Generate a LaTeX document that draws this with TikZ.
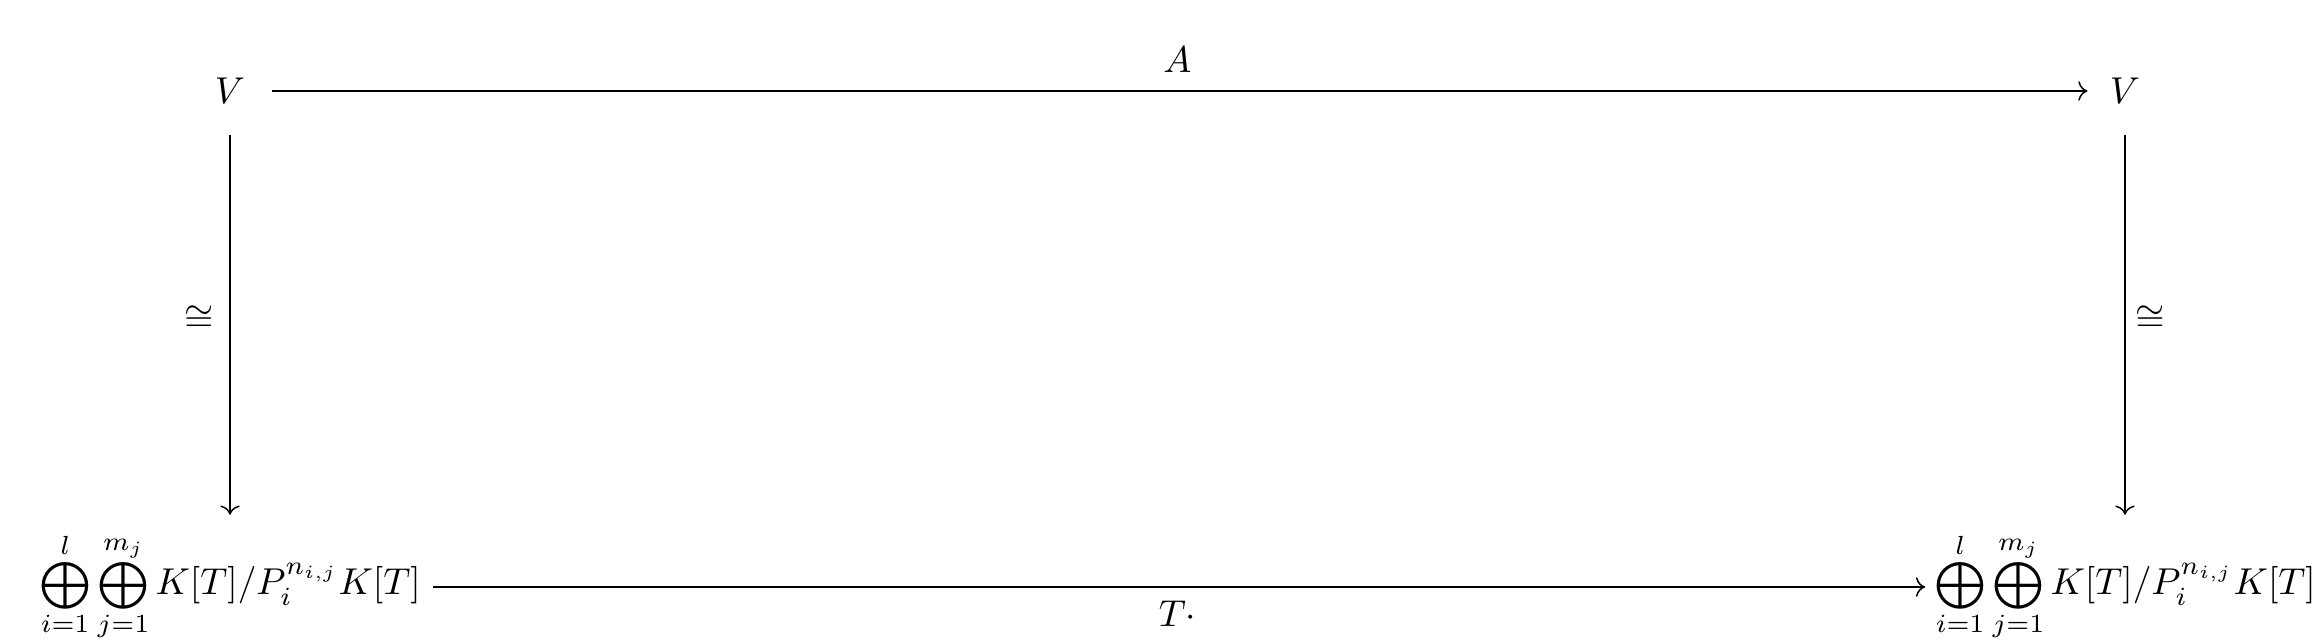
\documentclass[tikz,border=0pt]{standalone}
\usepackage{amsmath,amssymb,graphicx}
\usetikzlibrary{arrows.meta}
\newcommand{\bigop}{\mathop{\vcenter{\hbox{\scalebox{1.25}{$\textstyle\bigoplus$}}}}}
\begin{document}
\begin{tikzpicture}[x=0.2674pt,y=-0.2674pt,
  obj/.style={inner sep=0pt, outer sep=0pt},
  map/.style={-{Computer Modern Rightarrow}, line width=0.4pt},
  lab/.style={inner sep=0pt}]
\useasboundingbox (0,0) rectangle (2318,643);
\node[obj] (V1) at (230,91) {$V$};
\node[obj] (V2) at (2125,91) {$V$};
\node[obj] (B1) at (230,587) {$\bigop\limits_{i=1}^{l}\bigop\limits_{j=1}^{m_j}K[T]/P_i^{n_{i,j}}K[T]$};
\node[obj] (B2) at (2125,587) {$\bigop\limits_{i=1}^{l}\bigop\limits_{j=1}^{m_j}K[T]/P_i^{n_{i,j}}K[T]$};
\draw[map, shorten <=7.1pt, shorten >=6pt] (V1) -- (V2)
  node[lab, midway, yshift=8.3pt] (lA) {$A$};
\draw[map, shorten <=8.3pt, shorten >=4.8pt] (V1) -- (B1)
  node[lab, midway, xshift=-8.3pt] (liso1) {$\cong$};
\draw[map, shorten <=8.3pt, shorten >=4.8pt] (V2) -- (B2)
  node[lab, midway, xshift=6.7pt] (liso2) {$\cong$};
\draw[map, shorten <=3.2pt, shorten >=2.4pt] (B1) -- (B2)
  node[lab, midway, yshift=-7.2pt] (lT) {$T\cdot$};
\end{tikzpicture}
\end{document}
